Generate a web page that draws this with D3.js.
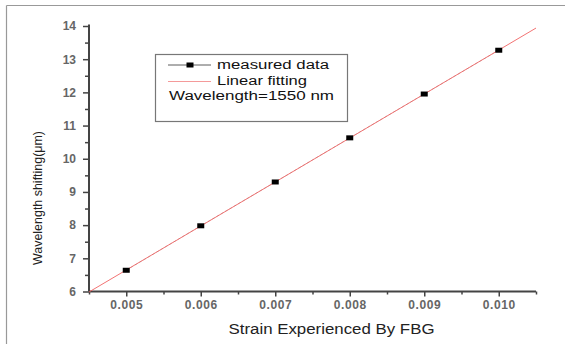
<!DOCTYPE html>
<html>
<head>
<meta charset="utf-8">
<script src="https://cdn.jsdelivr.net/npm/d3@7"></script>
<style>
  html, body { margin: 0; padding: 0; background: #fff; }
  svg { display: block; font-family: "Liberation Sans", Arial, sans-serif; }
</style>
</head>
<body>
<svg id="chart" width="567" height="344"></svg>
<script>
// Strain applied to the FBG and the measured Bragg wavelength shift
const strain = [0.005, 0.006, 0.007, 0.008, 0.009, 0.010];
const shift = [6.64, 7.98, 9.30, 10.63, 11.95, 13.27];

const xTicks = [0.005, 0.006, 0.007, 0.008, 0.009, 0.010];
const xMinorTicks = [0.0045, 0.0055, 0.0065, 0.0075, 0.0085, 0.0095, 0.0105];
const yTicks = [6, 7, 8, 9, 10, 11, 12, 13, 14];
const yMinorTicks = [6.5, 7.5, 8.5, 9.5, 10.5, 11.5, 12.5, 13.5];

const legendLabels = ["measured data", "Linear fitting", "Wavelength=1550 nm"];
const xTitle = "Strain Experienced By FBG";
const yTitle = "Wavelength shifting(\u03bcm)";

const svg = d3.select("#chart");

// page frame (top and left rules)
svg.append("line").attr("x1", 6.5).attr("x2", 565).attr("y1", 5.5).attr("y2", 5.5)
  .attr("stroke", "#999").attr("stroke-width", 1.2);
svg.append("line").attr("x1", 6.5).attr("x2", 6.5).attr("y1", 5.5).attr("y2", 344)
  .attr("stroke", "#999").attr("stroke-width", 1.2);

const x = d3.scaleLinear().domain([0.0045, 0.0105]).range([89, 536]);
const y = d3.scaleLinear().domain([6, 14]).range([291.5, 26]);

// least-squares linear fit of the measurements
const mx = d3.mean(strain), my = d3.mean(shift);
const slope = d3.sum(strain, (s, i) => (s - mx) * (shift[i] - my)) /
              d3.sum(strain, s => (s - mx) * (s - mx));
const intercept = my - slope * mx;
const fitLine = x.domain().map(s => [s, intercept + slope * s]);

const axisColor = "#444";
const tickFont = g => g.selectAll("text")
  .attr("fill", "#666").style("font-size", "12px").style("font-weight", "bold");

// minor ticks
svg.append("g").attr("transform", `translate(0,${y(6)})`)
  .call(d3.axisBottom(x).tickValues(xMinorTicks).tickSize(3).tickFormat(""))
  .call(g => g.select(".domain").remove())
  .call(g => g.selectAll("line").attr("stroke", axisColor).attr("stroke-width", 1.5));
svg.append("g").attr("transform", `translate(${x(0.0045)},0)`)
  .call(d3.axisLeft(y).tickValues(yMinorTicks).tickSize(4).tickFormat(""))
  .call(g => g.select(".domain").remove())
  .call(g => g.selectAll("line").attr("stroke", axisColor).attr("stroke-width", 1.5));

// major axes
svg.append("g").attr("transform", `translate(0,${y(6)})`)
  .call(d3.axisBottom(x).tickValues(xTicks).tickSize(5).tickPadding(4)
    .tickFormat(d3.format(".3f")))
  .call(g => g.select(".domain").attr("stroke", axisColor).attr("stroke-width", 2)
    .attr("d", `M${x(0.0045)},0H${x(0.0105)}`))
  .call(g => g.selectAll("line").attr("stroke", axisColor).attr("stroke-width", 1.5))
  .call(tickFont)
  .call(g => g.selectAll("text").style("letter-spacing", "0.6px"));

svg.append("g").attr("transform", `translate(${x(0.0045)},0)`)
  .call(d3.axisLeft(y).tickValues(yTicks).tickSize(6).tickPadding(7)
    .tickFormat(d3.format("d")))
  .call(g => g.select(".domain").attr("stroke", axisColor).attr("stroke-width", 2)
    .attr("d", `M0,${y(14) - 1.5}V${y(6)}`))
  .call(g => g.selectAll("line").attr("stroke", axisColor).attr("stroke-width", 1.5))
  .call(tickFont);

// axis titles
svg.append("text").attr("x", 331.5).attr("y", 334)
  .attr("text-anchor", "middle").attr("fill", "#222").style("font-size", "14px")
  .attr("textLength", 206).attr("lengthAdjust", "spacingAndGlyphs")
  .text(xTitle);
svg.append("text").attr("transform", "translate(42,198) rotate(-90)")
  .attr("text-anchor", "middle").attr("fill", "#222").style("font-size", "13.5px")
  .attr("textLength", 134).attr("lengthAdjust", "spacingAndGlyphs")
  .text(yTitle);

const line = d3.line().x(d => x(d[0])).y(d => y(d[1]));
const points = strain.map((s, i) => [s, shift[i]]);

// connecting line of the measurements
svg.append("path").datum(points).attr("d", line)
  .attr("fill", "none").attr("stroke", "#333").attr("stroke-width", 0.6)
  .attr("stroke-opacity", 0.45).attr("stroke-dasharray", "3,2");

// fitted line
svg.append("path").datum(fitLine).attr("d", line)
  .attr("fill", "none").attr("stroke", "#f05a5a").attr("stroke-width", 1)
  .attr("stroke-opacity", 0.85);

// measurement markers
svg.append("g").selectAll("rect").data(points).join("rect")
  .attr("x", d => x(d[0]) - 3.5).attr("y", d => y(d[1]) - 2.5)
  .attr("width", 7).attr("height", 5).attr("fill", "#000");

// legend
const lg = svg.append("g");
lg.append("rect").attr("x", 155.5).attr("y", 54.5).attr("width", 192).attr("height", 67)
  .attr("fill", "#fff").attr("stroke", "#777").attr("stroke-width", 1.2);
lg.append("line").attr("x1", 168).attr("x2", 211).attr("y1", 65).attr("y2", 65)
  .attr("stroke", "#333").attr("stroke-width", 0.8);
lg.append("rect").attr("x", 186.5).attr("y", 62.5).attr("width", 7).attr("height", 5)
  .attr("fill", "#000");
lg.append("line").attr("x1", 168).attr("x2", 211).attr("y1", 81.5).attr("y2", 81.5)
  .attr("stroke", "#f49a9a").attr("stroke-width", 1);
const legendPos = [[217, 69, 112], [217, 84.5, 90], [169, 100, 165]];
lg.selectAll("text.lbl").data(legendLabels).join("text").attr("class", "lbl")
  .attr("x", (d, i) => legendPos[i][0]).attr("y", (d, i) => legendPos[i][1])
  .attr("textLength", (d, i) => legendPos[i][2]).attr("lengthAdjust", "spacingAndGlyphs")
  .attr("fill", "#111").style("font-size", "12.5px")
  .text(d => d);
</script>
</body>
</html>
